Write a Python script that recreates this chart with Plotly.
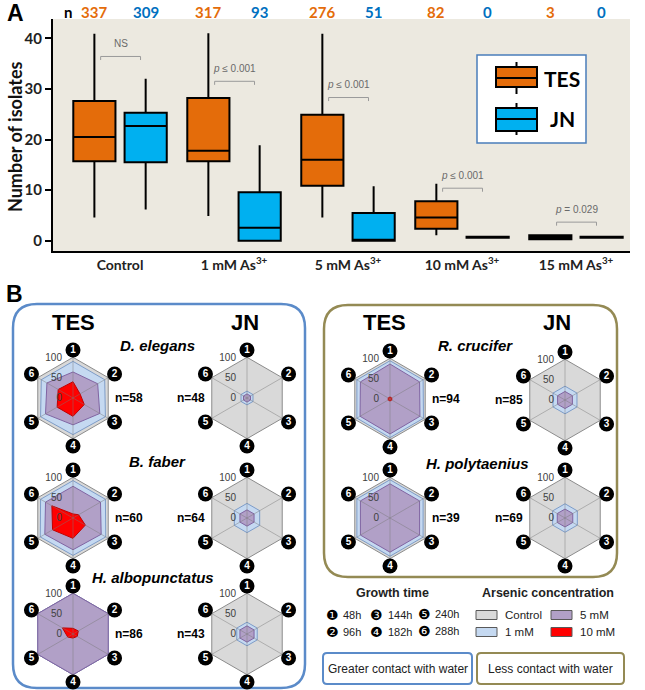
import plotly.graph_objects as go

W, H = 645, 690
def fx(x): return x / W
def fy(y): return 1 - y / H

ARIAL = "Liberation Sans, Arial, sans-serif"
CAL = "Lato, Liberation Sans, sans-serif"
ORANGE = "#E46C0A"
BLUE = "#00B0F0"
BLUE_TXT = "#0070C0"

# ---------------- Panel A data ----------------
categories = ["Control", "1 mM As<sup>3+</sup>", "5 mM As<sup>3+</sup>",
              "10 mM As<sup>3+</sup>", "15 mM As<sup>3+</sup>"]
tes_n = [337, 317, 276, 82, 3]
jn_n = [309, 93, 51, 0, 0]
tes_lower = [4.6, 4.9, 4.6, 1.1, 0.3]
tes_q1 = [15.7, 15.7, 10.9, 2.4, 0.3]
tes_median = [20.5, 17.8, 16.0, 4.6, 0.7]
tes_q3 = [27.6, 28.2, 24.9, 7.8, 1.1]
tes_upper = [40.9, 41.0, 40.9, 11.3, 1.1]
jn_lower = [6.2, 0.0, 0.0, 0.6, 0.6]
jn_q1 = [15.5, 0.0, 0.0, 0.6, 0.6]
jn_median = [22.7, 2.6, 0.0, 0.7, 0.7]
jn_q3 = [25.3, 9.6, 5.5, 0.8, 0.8]
jn_upper = [32.0, 18.9, 10.8, 0.8, 0.8]
y_ticks = [0, 10, 20, 30, 40]
sig_labels = ["NS", "<i>p</i> ≤ 0.001", "<i>p</i> ≤ 0.001", "<i>p</i> ≤ 0.001", "<i>p</i> = 0.029"]
sig_y = [36.4, 31.5, 28.3, 10.4, 3.7]

# ---------------- Panel B data ----------------
growth_steps = ["1", "2", "3", "4", "5", "6"]
growth_marks = ["❶", "❷", "❸", "❹", "❺", "❻"]
growth_times = ["48h", "96h", "144h", "182h", "240h", "288h"]
concentrations = ["Control", "1 mM", "5 mM", "10 mM"]
radial_ticks = [0, 50, 100]

d_elegans_tes = {"Control": [100, 100, 100, 100, 100, 100], "1 mM": [90, 90, 92, 90, 92, 90],
                 "5 mM": [64, 70, 76, 66, 78, 74], "10 mM": [40, 20, 32, 45, 45, 42]}
d_elegans_jn = {"Control": [100, 100, 100, 100, 100, 100], "1 mM": [17, 17, 17, 17, 17, 17],
                "5 mM": [10, 10, 10, 10, 10, 10]}
b_faber_tes = {"Control": [100, 100, 100, 100, 100, 100], "1 mM": [92, 92, 93, 92, 93, 92],
               "5 mM": [78, 78, 80, 78, 80, 78], "10 mM": [10, 16, 35, 50, 58, 60]}
b_faber_jn = {"Control": [100, 100, 100, 100, 100, 100], "1 mM": [36, 36, 36, 36, 36, 36],
              "5 mM": [20, 20, 20, 20, 20, 20]}
h_albo_tes = {"Control": [100, 100, 100, 100, 100, 100], "1 mM": [100, 100, 100, 100, 100, 100],
              "5 mM": [100, 100, 100, 100, 100, 100], "10 mM": [14, 15, 12, 10, 15, 30]}
h_albo_jn = {"Control": [100, 100, 100, 100, 100, 100], "1 mM": [29, 29, 29, 29, 29, 29],
             "5 mM": [20, 20, 20, 20, 20, 20]}
r_crucifer_tes = {"Control": [100, 100, 100, 100, 100, 100], "1 mM": [94, 94, 95, 95, 94, 94],
                  "5 mM": [86, 84, 85, 86, 85, 84], "10 mM": [5, 5, 5, 5, 5, 5]}
r_crucifer_jn = {"Control": [100, 100, 100, 100, 100, 100], "1 mM": [34, 34, 34, 34, 34, 34],
                 "5 mM": [21, 21, 21, 21, 21, 21]}
h_poly_tes = {"Control": [100, 100, 100, 100, 100, 100], "1 mM": [94, 94, 94, 94, 94, 94],
              "5 mM": [84, 84, 84, 84, 84, 84]}
h_poly_jn = {"Control": [100, 100, 100, 100, 100, 100], "1 mM": [35, 35, 35, 35, 35, 35],
             "5 mM": [22, 22, 22, 22, 22, 22]}

conc_fill = {"Control": "#D9D9D9", "1 mM": "#C5D9F1", "5 mM": "#B1A0C7", "10 mM": "#FF0000"}
conc_line = {"Control": "#8C8C8C", "1 mM": "#7D9CC8", "5 mM": "#8064A2", "10 mM": "#C00000"}

# (data, n, centre x px, centre y px, side of n label)
radars = [
    (d_elegans_tes, 58, 73, 398, "right"), (d_elegans_jn, 48, 247, 398, "left"),
    (b_faber_tes, 60, 73, 518, "right"), (b_faber_jn, 64, 247, 518, "left"),
    (h_albo_tes, 86, 73, 634, "right"), (h_albo_jn, 43, 247, 634, "left"),
    (r_crucifer_tes, 94, 390, 399, "right"), (r_crucifer_jn, 85, 565, 400, "left"),
    (h_poly_tes, 39, 390, 518, "right"), (h_poly_jn, 69, 565, 518, "left"),
]
R_OUT = 48     # px from radar centre to growth-step markers
R_MAX = 118    # radial range max (markers sit on it), 100 -> ~40 px

fig = go.Figure()

def ann(x, y, text, size, family=ARIAL, color="#222", **kw):
    d = dict(x=fx(x), y=fy(y), xref="paper", yref="paper", text=text, showarrow=False,
             xanchor="center", yanchor="middle", font=dict(family=family, size=size, color=color))
    d.update(kw)
    return d

# ---------------- Panel A traces ----------------
cat_pos = [0, 1, 2, 3, 4]
tes_x = [c - 0.225 for c in cat_pos]
jn_x = [c + 0.225 for c in cat_pos]
fig.add_trace(go.Box(x=tes_x, q1=tes_q1, median=tes_median, q3=tes_q3,
                     lowerfence=tes_lower, upperfence=tes_upper,
                     fillcolor=ORANGE, line=dict(color="black", width=2),
                     whiskerwidth=0, width=0.37, boxpoints=False,
                     showlegend=False, hoverinfo="skip", xaxis="x", yaxis="y"))
fig.add_trace(go.Box(x=jn_x, q1=jn_q1, median=jn_median, q3=jn_q3,
                     lowerfence=jn_lower, upperfence=jn_upper,
                     fillcolor=BLUE, line=dict(color="black", width=2),
                     whiskerwidth=0, width=0.37, boxpoints=False,
                     showlegend=False, hoverinfo="skip", xaxis="x", yaxis="y"))

shapes = []
annotations = []

for i, c in enumerate(cat_pos):
    x1, x2, yb = c - 0.17, c + 0.18, sig_y[i]
    shapes.append(dict(type="path", xref="x", yref="y",
                       path=f"M {x1},{yb-0.7} L {x1},{yb} L {x2},{yb} L {x2},{yb-0.7}",
                       line=dict(color="#9A9A9A", width=1)))
    annotations.append(dict(x=(x1 + x2) / 2, y=yb + 1.0, xref="x", yref="y", text=sig_labels[i],
                            showarrow=False, xanchor="center", yanchor="bottom",
                            font=dict(family=ARIAL, size=10, color="#6A6A6A")))
    annotations.append(dict(x=tes_x[i], y=fy(12), xref="x", yref="paper", text=f"<b>{tes_n[i]}</b>",
                            showarrow=False, xanchor="center", yanchor="middle",
                            font=dict(family=CAL, size=15, color=ORANGE)))
    annotations.append(dict(x=jn_x[i], y=fy(12), xref="x", yref="paper", text=f"<b>{jn_n[i]}</b>",
                            showarrow=False, xanchor="center", yanchor="middle",
                            font=dict(family=CAL, size=15, color=BLUE_TXT)))

annotations.append(ann(68, 12, "<b>n</b>", 15, CAL, "black"))
annotations.append(ann(15, 13, "<b>A</b>", 23, ARIAL, "black"))
annotations.append(ann(15, 137, "<b>Number of isolates</b>", 18, CAL, "#111", textangle=-90))

# legend of panel A
shapes.append(dict(type="rect", xref="paper", yref="paper", x0=fx(477), x1=fx(586), y0=fy(143), y1=fy(55),
                   line=dict(color="#4A7EBB", width=1.5), fillcolor="white"))
for (yt, yb, ym, wt, wb, col, lab) in [(67, 87, 78, 62, 94, ORANGE, "TES"), (108, 131, 119, 103, 135, BLUE, "JN")]:
    shapes.append(dict(type="line", xref="paper", yref="paper", x0=fx(516.5), x1=fx(516.5), y0=fy(wt), y1=fy(wb),
                       line=dict(color="black", width=2)))
    shapes.append(dict(type="rect", xref="paper", yref="paper", x0=fx(496), x1=fx(537), y0=fy(yb), y1=fy(yt),
                       line=dict(color="black", width=2), fillcolor=col))
    shapes.append(dict(type="line", xref="paper", yref="paper", x0=fx(496), x1=fx(537), y0=fy(ym), y1=fy(ym),
                       line=dict(color="black", width=2)))
    annotations.append(ann(562, ym, f"<b>{lab}</b>", 21, CAL, "black"))

# ---------------- Panel B ----------------
def rounded(x0, y0, x1, y1, r):
    P = lambda x, y: f"{fx(x)},{fy(y)}"
    return (f"M {P(x0+r,y0)} L {P(x1-r,y0)} Q {P(x1,y0)} {P(x1,y0+r)} L {P(x1,y1-r)} "
            f"Q {P(x1,y1)} {P(x1-r,y1)} L {P(x0+r,y1)} Q {P(x0,y1)} {P(x0,y1-r)} "
            f"L {P(x0,y0+r)} Q {P(x0,y0)} {P(x0+r,y0)} Z")

shapes.append(dict(type="path", xref="paper", yref="paper", path=rounded(13, 304, 305, 688, 24),
                   line=dict(color="#5B8BC9", width=2.5), layer="below"))
shapes.append(dict(type="path", xref="paper", yref="paper", path=rounded(324, 305, 617, 577, 24),
                   line=dict(color="#948A54", width=2.5), layer="below"))
shapes.append(dict(type="path", xref="paper", yref="paper", path=rounded(323, 653, 472, 684, 4),
                   line=dict(color="#5B8BC9", width=2)))
shapes.append(dict(type="path", xref="paper", yref="paper", path=rounded(477, 653, 624, 684, 4),
                   line=dict(color="#948A54", width=2)))

annotations.append(ann(14, 294, "<b>B</b>", 23, ARIAL, "black"))
for (x, t) in [(73, "TES"), (245, "JN"), (385, "TES"), (557, "JN")]:
    annotations.append(ann(x, 322, f"<b>{t}</b>", 22, ARIAL, "black"))
species = ["D. elegans", "B. faber", "H. albopunctatus", "R. crucifer", "H. polytaenius"]
species_pos = [(157, 345), (157, 461), (153, 577), (475, 345), (477, 463)]
for s, (x, y) in zip(species, species_pos):
    annotations.append(ann(x, y, f"<b><i>{s}</i></b>", 15, ARIAL, "black"))

spoke_r, spoke_t = [], []
for g in growth_steps:
    spoke_r += [0, 100, None]
    spoke_t += [g, g, None]

for k, (data, n, cx, cy, side) in enumerate(radars):
    pk = "polar" if k == 0 else f"polar{k+1}"
    for conc in concentrations:
        if conc not in data:
            continue
        vals = data[conc]
        fig.add_trace(go.Scatterpolar(r=vals + vals[:1], theta=growth_steps + growth_steps[:1],
                                      mode="lines", fill="toself", fillcolor=conc_fill[conc],
                                      line=dict(color=conc_line[conc], width=1),
                                      showlegend=False, hoverinfo="skip", subplot=pk))
    # spokes
    fig.add_trace(go.Scatterpolar(r=spoke_r, theta=spoke_t, mode="lines", connectgaps=False,
                                  line=dict(color="rgba(120,120,120,0.45)", width=1),
                                  showlegend=False, hoverinfo="skip", subplot=pk))
    # growth-step markers
    fig.add_trace(go.Scatterpolar(r=[R_MAX] * 6, theta=growth_steps, mode="markers+text",
                                  marker=dict(size=15, color="black", line=dict(width=0)),
                                  text=[f"<b>{g}</b>" for g in growth_steps],
                                  textposition="middle center",
                                  textfont=dict(family=ARIAL, size=10, color="white"),
                                  cliponaxis=False, showlegend=False, hoverinfo="skip", subplot=pk))
    fig.layout[pk] = dict(
        domain=dict(x=[fx(cx - R_OUT), fx(cx + R_OUT)], y=[fy(cy + R_OUT), fy(cy - R_OUT)]),
        gridshape="linear", bgcolor="rgba(0,0,0,0)",
        radialaxis=dict(range=[0, R_MAX], tickvals=radial_ticks, showline=False, showgrid=False,
                        ticks="outside", ticklen=7, tickcolor="rgba(0,0,0,0)",
                        angle=90, side="counterclockwise", tickangle=90,
                        tickfont=dict(family=ARIAL, size=10, color="#404040")),
        angularaxis=dict(rotation=90, direction="clockwise", showticklabels=False, ticks="",
                         showline=False, showgrid=False,
                         categoryorder="array", categoryarray=growth_steps))
    nx = cx + 56 if side == "right" else cx - 56
    annotations.append(ann(nx, cy, f"<b>n={n}</b>", 12, ARIAL, "black"))

# growth-time legend
annotations.append(ann(393, 593, "<b>Growth time</b>", 12.5))
annotations.append(ann(548, 593, "<b>Arsenic concentration</b>", 12.5))
gpos = [(332, 615), (332, 632), (377, 615), (377, 632), (424, 614), (424, 631)]
for g, t, (x, y) in zip(growth_marks, growth_times, gpos):
    annotations.append(ann(x, y, g, 14, "DejaVu Sans", "black"))
    annotations.append(ann(x + 9, y, t, 11, xanchor="left"))

cpos = {"Control": (476, 615), "1 mM": (476, 632), "5 mM": (551, 615), "10 mM": (551, 632)}
for conc in concentrations:
    x, y = cpos[conc]
    shapes.append(dict(type="rect", xref="paper", yref="paper", x0=fx(x), x1=fx(x + 21),
                       y0=fy(y + 4.5), y1=fy(y - 4.5), fillcolor=conc_fill[conc],
                       line=dict(color="#595959", width=1)))
    annotations.append(ann(x + 27, y, conc, 11.5, xanchor="left"))

annotations.append(ann(397.5, 669, "Greater contact with water", 12))
annotations.append(ann(550.5, 669, "Less contact with water", 12))

fig.update_layout(
    width=W, height=H, margin=dict(l=0, r=0, t=0, b=0, autoexpand=False),
    paper_bgcolor="white", plot_bgcolor="#ECE9E0", showlegend=False,
    xaxis=dict(domain=[fx(53), fx(630)], range=[-0.588, 4.474], tickvals=cat_pos,
               ticktext=[f"<b>{c}</b>" for c in categories], showline=True, linecolor="black",
               linewidth=2, ticks="", showgrid=False, zeroline=False, automargin=False,
               tickfont=dict(family=CAL, size=14, color="#222")),
    yaxis=dict(domain=[fy(251), fy(19)], range=[-2.0, 43.8], tickvals=y_ticks,
               ticktext=[f"<b>{t}</b>" for t in y_ticks], showline=True, linecolor="black",
               linewidth=2, ticks="outside", ticklen=6, tickwidth=2, tickcolor="black",
               showgrid=False, zeroline=False, automargin=False,
               tickfont=dict(family=CAL, size=15, color="#222")),
    shapes=shapes, annotations=annotations,
)

fig.write_html("out.html", config={"displayModeBar": False},
               post_script="document.body.style.margin='0px';document.body.style.overflow='hidden';")
